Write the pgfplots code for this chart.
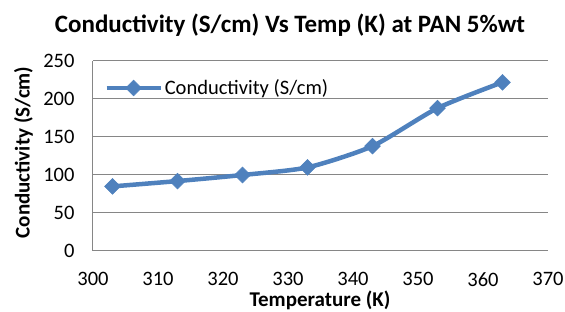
\documentclass[border=0pt]{standalone}
\usepackage{fontspec}
\setmainfont{Carlito}
\usepackage{pgfplots}
\pgfplotsset{compat=1.18}
\definecolor{xlblue}{HTML}{4F81BD}
\definecolor{xlgray}{HTML}{868686}
\begin{document}
\begin{tikzpicture}[x=1pt,y=1pt]
\path[use as bounding box] (-93,-61) rectangle (472,251);
\begin{axis}[
  at={(0,0)}, anchor=south west,
  scale only axis, width=455pt, height=190pt,
  xmin=300, xmax=370, ymin=0, ymax=250,
  xtick={300,310,...,370}, ytick={0,50,...,250},
  major tick length=0pt,
  ymajorgrids, grid style={xlgray, line width=1pt},
  axis line style={xlgray, line width=1pt},
  axis x line*=bottom, axis y line*=left,
  tick label style={font=\fontsize{20.5}{22}\selectfont},
  /pgf/number format/assume math mode=true,
  xticklabel style={yshift=-18pt},
  yticklabel style={xshift=-15pt},
  legend style={draw=none, fill=none, at={(0.02,0.858)}, anchor=west, font=\fontsize{20.5}{22}\selectfont, inner sep=2pt},
  legend image code/.code={\draw[#1, mark repeat=2, mark phase=2] plot coordinates {(0pt,0pt) (27pt,0pt) (54pt,0pt)};},
  clip=false,
]
\addplot[xlblue, line width=4.5pt, smooth, tension=0.4, mark=square*, mark size=5.6pt, mark options={solid, rotate=45, line width=0.5pt}]
  coordinates {(303,85) (313,92) (323,100) (333,110) (343,138) (353,188) (363,222)};
\addlegendentry{Conductivity (S/cm)}
\end{axis}
\node[font=\bfseries\fontsize{25}{27}\selectfont] at (197,226) {Conductivity (S/cm) Vs Temp (K) at PAN 5\%wt};
\node[font=\bfseries\fontsize{21}{23}\selectfont] at (227,-49) {Temperature (K)};
\node[font=\bfseries\fontsize{21}{23}\selectfont, rotate=90] at (-69.5,98.5) {Conductivity (S/cm)};
\end{tikzpicture}
\end{document}
